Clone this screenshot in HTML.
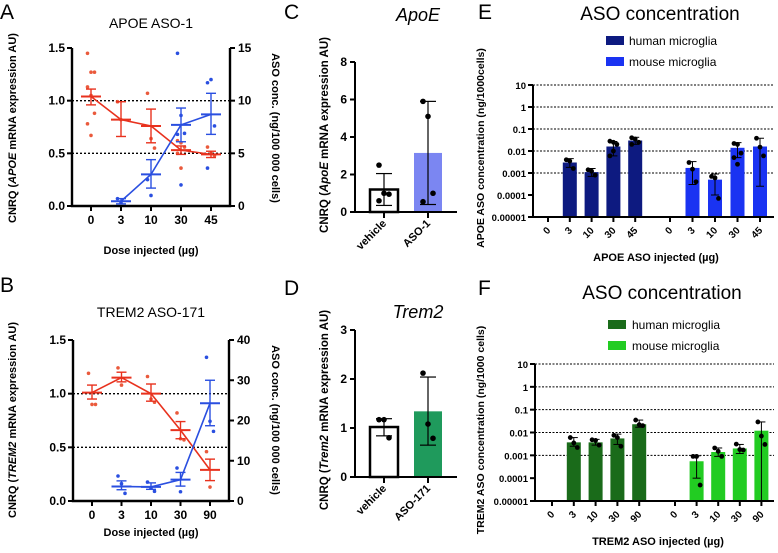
<!DOCTYPE html>
<html><head><meta charset="utf-8">
<style>
html,body{margin:0;padding:0;background:#fff;}
svg{display:block;font-family:"Liberation Sans",sans-serif;}
.tk{font-size:12px;font-weight:bold;fill:#000;}
.ax{font-size:11px;font-weight:bold;fill:#000;}
.ttl{font-size:14px;fill:#000;}
.let{font-size:21px;fill:#000;}
</style></head>
<body>
<svg id="fig" width="778" height="553" viewBox="0 0 778 553" xmlns="http://www.w3.org/2000/svg">
<text class="let" x="0" y="19">A</text>
<text class="let" x="0" y="292">B</text>
<text class="let" x="284" y="19">C</text>
<text class="let" x="284" y="295">D</text>
<text class="let" x="478" y="19">E</text>
<text class="let" x="478" y="295">F</text>

<text class="ttl" x="151" y="28" text-anchor="middle">APOE ASO-1</text>
<text class="ttl" x="151" y="317" text-anchor="middle">TREM2 ASO-171</text>
<text class="ttl" x="418" y="21" text-anchor="middle" style="font-size:18px;font-style:italic">ApoE</text>
<text class="ttl" x="418" y="318" text-anchor="middle" style="font-size:18px;font-style:italic">Trem2</text>
<text x="660" y="20" text-anchor="middle" style="font-size:19px">ASO concentration</text>
<text x="662" y="299" text-anchor="middle" style="font-size:19px">ASO concentration</text>

<text class="ax" transform="translate(16,128) rotate(-90)" text-anchor="middle">CNRQ (<tspan font-style="italic">APOE</tspan> mRNA expression AU)</text>
<text class="ax" transform="translate(272,128) rotate(90)" text-anchor="middle">ASO conc. (ng/100 000 cells)</text>
<text class="ax" x="151" y="254" text-anchor="middle">Dose injected (µg)</text>
<text class="ax" transform="translate(16,420) rotate(-90)" text-anchor="middle">CNRQ (<tspan font-style="italic">TREM2</tspan> mRNA expression AU)</text>
<text class="ax" transform="translate(272,420) rotate(90)" text-anchor="middle">ASO conc. (ng/100 000 cells)</text>
<text class="ax" x="151" y="536" text-anchor="middle">Dose injected (µg)</text>
<text class="ax" style="font-size:11.5px" transform="translate(328,135) rotate(-90)" text-anchor="middle">CNRQ (<tspan font-style="italic">ApoE</tspan> mRNA expression AU)</text>
<text class="ax" style="font-size:11.5px" transform="translate(328,410) rotate(-90)" text-anchor="middle">CNRQ (<tspan font-style="italic">Trem2</tspan> mRNA expression AU)</text>
<text class="ax" style="font-size:10.5px" transform="translate(484,148) rotate(-90)" text-anchor="middle">APOE ASO concentration (ng/1000cells)</text>
<text class="ax" x="656" y="261" text-anchor="middle">APOE ASO injected (µg)</text>
<text class="ax" style="font-size:10.5px" transform="translate(484,430) rotate(-90)" text-anchor="middle">TREM2 ASO concentration (ng/1000 cells)</text>
<text class="ax" x="658" y="545" text-anchor="middle">TREM2 ASO injected (µg)</text>

<g>
<rect x="606" y="36" width="18" height="9" fill="#0d1a80"/>
<text x="629" y="45" font-size="12">human microglia</text>
<rect x="606" y="57" width="18" height="9" fill="#1a33f2"/>
<text x="629" y="66" font-size="12">mouse microglia</text>
</g>
<g>
<rect x="608" y="320" width="18" height="9" fill="#1a6b1a"/>
<text x="632" y="329" font-size="12">human microglia</text>
<rect x="608" y="341" width="18" height="9" fill="#22cc22"/>
<text x="632" y="350" font-size="12">mouse microglia</text>
</g>
</svg>
<script>
// ---- Panel A data ----
const catsA = ['0','3','10','30','45'];
const redMeanA = [1.04,0.82,0.76,0.53,0.49];
const redLoA = [0.96,0.66,0.60,0.49,0.46];
const redHiA = [1.11,0.99,0.92,0.57,0.52];
const redPtsA = [[1.45,1.27,1.27,1.13,1.05,0.88,0.78,0.67],[0.99,0.82],[1.07,0.64,0.55],[0.62,0.60,0.56,0.50,0.36],[0.56,0.50,0.48]];
const blueCatIdxA = [1,2,3,4];
const blueMeanA = [0.45,3.0,7.7,8.7];
const blueLoA = [0.2,1.7,6.1,6.8];
const blueHiA = [0.7,4.4,9.3,10.7];
const bluePtsA = [[0.7,0.3],[2.5,1.0],[14.5,8.6,6.9,6.8,2.0],[11.7,12.0,7.6,3.6]];
const leftTicksA = ['0.0','0.5','1.0','1.5'];
const rightTicksA = ['0','5','10','15'];
// ---- Panel B data ----
const catsB = ['0','3','10','30','90'];
const redMeanB = [1.01,1.15,1.00,0.66,0.29];
const redLoB = [0.95,1.11,0.93,0.58,0.19];
const redHiB = [1.08,1.20,1.09,0.74,0.39];
const redPtsB = [[1.19,0.90,0.90],[1.24,1.08],[1.16,0.95,0.92],[0.82,0.58,0.57],[0.46,0.13]];
const blueCatIdxB = [1,2,3,4];
const blueMeanB = [3.6,3.5,5.3,24.3];
const blueLoB = [2.8,2.9,3.7,18.7];
const blueHiB = [5.0,4.5,7.1,30.0];
const bluePtsB = [[6.2,4.3,1.9],[4.7,3.2,2.4],[8.2,2.3],[35.7,19.8,17.3]];
const leftTicksB = ['0.0','0.5','1.0','1.5'];
const rightTicksB = ['0','10','20','30','40'];
// ---- Panel C data ----
const catsC = ['vehicle','ASO-1'];
const meanC = [1.2,3.15];
const loC = [0.35,0.4];
const hiC = [2.05,5.9];
const ptsC = [[2.5,1.0,0.95,0.6],[5.9,5.1,1.0,0.55]];
const ticksC = ['0','2','4','6','8'];
// ---- Panel D data ----
const catsD = ['vehicle','ASO-171'];
const meanD = [1.02,1.34];
const loD = [0.84,0.65];
const hiD = [1.19,2.04];
const ptsD = [[1.17,1.17,0.80],[2.12,1.08,0.79]];
const ticksD = ['0','1','2','3'];
// ---- Panel E data ----
const catsE = ['0','3','10','30','45'];
const humanE = [null,0.003,0.0011,0.016,0.03];
const humanLoE = [null,0.0018,0.0007,0.006,0.02];
const humanHiE = [null,0.0045,0.0016,0.027,0.042];
const humanPtsE = [[],[0.004,0.0035,0.0016],[0.0014,0.0012,0.0008],[0.028,0.025,0.02,0.006,0.01],[0.04,0.035,0.025,0.02]];
const mouseE = [null,0.0017,0.0005,0.014,0.016];
const mouseLoE = [null,0.0003,0.0001,0.005,0.00025];
const mouseHiE = [null,0.0033,0.0009,0.024,0.038];
const mousePtsE = [[],[0.003,0.0015,0.0004],[0.0007,0.0006,0.00007],[0.022,0.02,0.008,0.005,0.0025],[0.038,0.015,0.006]];
const logTicks = ['0.00001','0.0001','0.001','0.01','0.1','1','10'];
// ---- Panel F data ----
const catsF = ['0','3','10','30','90'];
const humanF = [null,0.0037,0.0037,0.0055,0.023];
const humanLoF = [null,0.0025,0.0028,0.003,0.017];
const humanHiF = [null,0.006,0.005,0.0085,0.035];
const humanPtsF = [[],[0.006,0.0035,0.0022],[0.0048,0.0045,0.0028],[0.0075,0.006,0.0025],[0.035,0.022,0.02]];
const mouseF = [null,0.00055,0.0014,0.002,0.012];
const mouseLoF = [null,0.0001,0.0009,0.0012,0.00001];
const mouseHiF = [null,0.00095,0.0021,0.003,0.029];
const mousePtsF = [[],[0.0009,0.0009,0.00005],[0.0021,0.0015,0.0009],[0.0031,0.0018,0.0017],[0.029,0.007,0.003]];

const NS='http://www.w3.org/2000/svg';
const svg=document.getElementById('fig');
function mk(tag,attrs,name,parent){
  const el=document.createElementNS(NS,tag);
  for(const k in attrs) el.setAttribute(k,attrs[k]);
  
  
  (parent||svg).appendChild(el);
  return el;
}
function txt(x,y,s,name,extra,parent){
  const a=Object.assign({x:x,y:y,'class':'tk'},extra||{});
  if(a['font-size']){a.style='font-size:'+a['font-size']+'px';delete a['font-size'];}
  const t=mk('text',a,name,parent); t.textContent=s; return t;
}
function errbar(g,x,lo,hi,capW,color,sw,name){
  mk('line',{x1:x,x2:x,y1:lo,y2:hi,stroke:color,'stroke-width':sw},name+'-stem',g);
  mk('line',{x1:x-capW,x2:x+capW,y1:lo,y2:lo,stroke:color,'stroke-width':sw},name+'-cap-low',g);
  mk('line',{x1:x-capW,x2:x+capW,y1:hi,y2:hi,stroke:color,'stroke-width':sw},name+'-cap-high',g);
}

function linePanel(id,box,cats,lMax,lTicks,rMax,rTicks,rMean,rLo,rHi,rPts,bIdx,bMean,bLo,bHi,bPts){
  const g=mk('g',{},'panel-'+id);
  const xs=i=>box.x0+19+i*(box.x1-box.x0-38)/(cats.length-1);
  const yL=v=>box.y1-v/lMax*(box.y1-box.y0);
  const yR=v=>box.y1-v/rMax*(box.y1-box.y0);
  [0.5,1.0].forEach(v=>mk('line',{x1:box.x0,x2:box.x1,y1:yL(v),y2:yL(v),stroke:'#000','stroke-width':1.3,'stroke-dasharray':'2,2'},'gridline-'+id,g));
  mk('path',{d:`M${box.x0},${box.y0}V${box.y1}H${box.x1}V${box.y0}`,fill:'none',stroke:'#000','stroke-width':2.4},'axes-'+id,g);
  lTicks.forEach((s,i)=>{const v=i*lMax/(lTicks.length-1);
    mk('line',{x1:box.x0-5,x2:box.x0,y1:yL(v),y2:yL(v),stroke:'#000','stroke-width':2},'y-tick-'+id,g);
    txt(box.x0-7,yL(v)+4,s,'y-tick-label-'+id,{'text-anchor':'end'},g);});
  rTicks.forEach((s,i)=>{const v=i*rMax/(rTicks.length-1);
    mk('line',{x1:box.x1,x2:box.x1+5,y1:yR(v),y2:yR(v),stroke:'#000','stroke-width':2},'y2-tick-'+id,g);
    txt(box.x1+8,yR(v)+4,s,'y2-tick-label-'+id,{},g);});
  cats.forEach((s,i)=>{
    mk('line',{x1:xs(i),x2:xs(i),y1:box.y1,y2:box.y1+5,stroke:'#000','stroke-width':2},'x-tick-'+id,g);
    txt(xs(i),box.y1+18,s,'x-tick-label-'+id,{'text-anchor':'middle'},g);});
  const red='#e8321e', blue='#2a4fe0';
  mk('polyline',{points:rMean.map((v,i)=>xs(i)+','+yL(v)).join(' '),fill:'none',stroke:red,'stroke-width':1.6},'line-mrna-'+id,g);
  rPts.forEach((arr,i)=>arr.forEach((v,j)=>mk('circle',{cx:xs(i)+((j%3)-1)*3.5,cy:yL(v),r:1.8,fill:'#ea5a3c'},'point-mrna-'+id,g)));
  rMean.forEach((v,i)=>{errbar(g,xs(i),yL(rLo[i]),yL(rHi[i]),5,red,1.4,'errorbar-mrna-'+id);
    mk('line',{x1:xs(i)-10,x2:xs(i)+10,y1:yL(v),y2:yL(v),stroke:red,'stroke-width':2},'mean-mrna-'+id,g);});
  mk('polyline',{points:bMean.map((v,k)=>xs(bIdx[k])+','+yR(v)).join(' '),fill:'none',stroke:blue,'stroke-width':1.6},'line-aso-'+id,g);
  bPts.forEach((arr,k)=>arr.forEach((v,j)=>mk('circle',{cx:xs(bIdx[k])+((j%3)-1)*3.5,cy:yR(v),r:1.8,fill:blue},'point-aso-'+id,g)));
  bMean.forEach((v,k)=>{const x=xs(bIdx[k]);errbar(g,x,yR(bLo[k]),yR(bHi[k]),5,blue,1.4,'errorbar-aso-'+id);
    mk('line',{x1:x-10,x2:x+10,y1:yR(v),y2:yR(v),stroke:blue,'stroke-width':2},'mean-aso-'+id,g);});
}
linePanel('a',{x0:72,x1:230,y0:48,y1:206},catsA,1.5,leftTicksA,15,rightTicksA,redMeanA,redLoA,redHiA,redPtsA,blueCatIdxA,blueMeanA,blueLoA,blueHiA,bluePtsA);
linePanel('b',{x0:73,x1:229,y0:340,y1:501},catsB,1.5,leftTicksB,40,rightTicksB,redMeanB,redLoB,redHiB,redPtsB,blueCatIdxB,blueMeanB,blueLoB,blueHiB,bluePtsB);

function barPanel(id,ax,cats,max,ticks,mean,lo,hi,pts,fill2){
  const g=mk('g',{},'panel-'+id);
  const xs=i=>ax.x0+29+i*44;
  const y=v=>ax.y1-v/max*(ax.y1-ax.y0);
  cats.forEach((s,i)=>{
    const f=i===0?'#fff':fill2;
    mk('rect',{x:xs(i)-14,y:y(mean[i]),width:28,height:ax.y1-y(mean[i]),fill:f,stroke:i===0?'#000':'none','stroke-width':2.5},'bar-'+id+'-'+s,g);
    errbar(g,xs(i),y(lo[i]),y(hi[i]),8,'#000',1.2,'errorbar-'+id);
    pts[i].forEach((v,j)=>mk('circle',{cx:xs(i)+(pts[i].length>2?((j%3)-1)*5:0),cy:y(v),r:2.8,fill:'#000'},'point-'+id,g));
    mk('line',{x1:xs(i),x2:xs(i),y1:ax.y1,y2:ax.y1+6,stroke:'#000','stroke-width':2},'x-tick-'+id,g);
    txt(xs(i)+3,ax.y1+12,s,'x-tick-label-'+id,{'text-anchor':'end','font-size':11,transform:`rotate(-45 ${xs(i)+3} ${ax.y1+12})`},g);
  });
  mk('path',{d:`M${ax.x0},${ax.y0}V${ax.y1}H${ax.x1}`,fill:'none',stroke:'#000','stroke-width':2},'axes-'+id,g);
  ticks.forEach((s,i)=>{const v=i*max/(ticks.length-1);
    mk('line',{x1:ax.x0-5,x2:ax.x0,y1:y(v),y2:y(v),stroke:'#000','stroke-width':2},'y-tick-'+id,g);
    txt(ax.x0-8,y(v)+4,s,'y-tick-label-'+id,{'text-anchor':'end'},g);});
}
barPanel('c',{x0:355,x1:457,y0:62,y1:212},catsC,8,ticksC,meanC,loC,hiC,ptsC,'#7b86f2');
barPanel('d',{x0:355,x1:457,y0:330,y1:477},catsD,3,ticksD,meanD,loD,hiD,ptsD,'#1f9a5c');

function logPanel(id,ax,xsH,xsM,cats,hm,hl,hh,hp,mm,ml,mh,mp,cH,cM){
  const g=mk('g',{},'panel-'+id);
  const y=v=>ax.y1-(Math.log10(v)+5)/6*(ax.y1-ax.y0);
  logTicks.forEach((s,i)=>{const v=Math.pow(10,i-5);
    if(i>=2) mk('line',{x1:ax.x0,x2:ax.x1,y1:y(v),y2:y(v),stroke:'#000','stroke-width':1,'stroke-dasharray':'2,1.5'},'gridline-'+id,g);
    mk('line',{x1:ax.x0-5,x2:ax.x0,y1:y(v),y2:y(v),stroke:'#000','stroke-width':2},'y-tick-'+id,g);
    txt(ax.x0-7,y(v)+4,s,'y-tick-label-'+id,{'text-anchor':'end','font-size':9.5},g);});
  function series(xs,m,l,h,p,col,nm){
    cats.forEach((s,i)=>{
      if(m[i]!==null){
        mk('rect',{x:xs[i]-7,y:y(m[i]),width:14,height:ax.y1-y(m[i]),fill:col},'bar-'+nm+'-'+s,g);
        errbar(g,xs[i],y(l[i]),y(h[i]),4,'#000',1,'errorbar-'+nm);
        p[i].forEach((v,j)=>mk('circle',{cx:xs[i]+((j%3)-1)*3.5,cy:y(v),r:2.4,fill:'#000'},'point-'+nm,g));
      }
      mk('line',{x1:xs[i],x2:xs[i],y1:ax.y1,y2:ax.y1+5,stroke:'#000','stroke-width':2},'x-tick-'+nm,g);
      txt(xs[i]+3,ax.y1+14,s,'x-tick-label-'+nm,{'text-anchor':'end','font-size':10,transform:`rotate(-45 ${xs[i]+3} ${ax.y1+14})`},g);
    });
  }
  series(xsH,hm,hl,hh,hp,cH,'human-'+id);
  series(xsM,mm,ml,mh,mp,cM,'mouse-'+id);
  mk('path',{d:`M${ax.x0},${ax.y0}V${ax.y1}H${ax.x1}`,fill:'none',stroke:'#000','stroke-width':2},'axes-'+id,g);
}
const step=(a,d)=>[0,1,2,3,4].map(i=>a+i*d);
logPanel('e',{x0:533,x1:774,y0:85,y1:217},step(548,21.8),step(670,22.5),catsE,humanE,humanLoE,humanHiE,humanPtsE,mouseE,mouseLoE,mouseHiE,mousePtsE,'#0d1a80','#1a33f2');
logPanel('f',{x0:535,x1:774,y0:364,y1:501},step(552,21.8),step(675,21.6),catsF,humanF,humanLoF,humanHiF,humanPtsF,mouseF,mouseLoF,mouseHiF,mousePtsF,'#1a6b1a','#22cc22');
</script>
</body></html>
